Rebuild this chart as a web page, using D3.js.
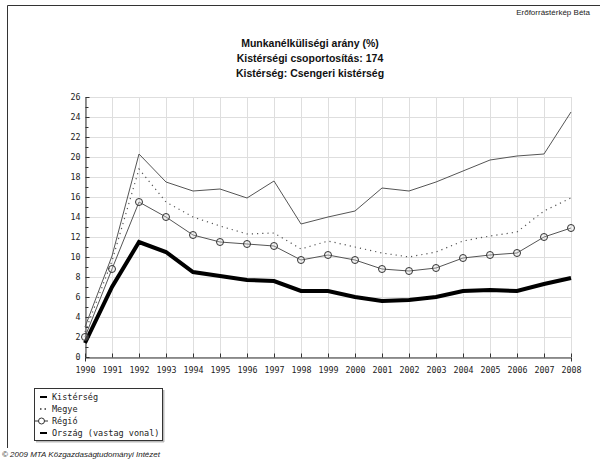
<!DOCTYPE html>
<html><head><meta charset="utf-8">
<script src="https://cdn.jsdelivr.net/npm/d3@7"></script>
<style>body{margin:0;background:#fff}svg{display:block}</style>
</head><body>
<svg id="c" width="600" height="461"></svg>
<script>
const years = [1990,1991,1992,1993,1994,1995,1996,1997,1998,1999,2000,2001,2002,2003,2004,2005,2006,2007,2008];
const kisterseg = [3.0,10.1,20.3,17.5,16.6,16.8,15.9,17.6,13.3,14.0,14.6,16.9,16.6,17.5,18.6,19.7,20.1,20.3,24.5];
const megye =     [2.5,9.6,18.8,15.5,14.0,13.1,12.3,12.4,10.8,11.6,11.0,10.4,10.0,10.5,11.6,12.1,12.5,14.6,15.9];
const regio =     [2.0,8.8,15.5,14.0,12.2,11.5,11.3,11.1,9.7,10.2,9.7,8.8,8.6,8.9,9.9,10.2,10.4,12.0,12.9];
const orszag =    [1.4,7.0,11.5,10.5,8.5,8.1,7.7,7.6,6.6,6.6,6.0,5.6,5.7,6.0,6.6,6.7,6.6,7.3,7.9];
const yTicks = [0,2,4,6,8,10,12,14,16,18,20,22,24,26];
const titleLines = ["Munkanélküliségi arány (%)","Kistérségi csoportosítás: 174","Kistérség: Csengeri kistérség"];
const legendLabels = ["Kistérség","Megye","Régió","Ország (vastag vonal)"];

const svg = d3.select("#c");
const mono = "DejaVu Sans Mono";
const x = d3.scaleLinear().domain([1990,2008]).range([85,571]);
const y = d3.scaleLinear().domain([0,26]).range([357,97]);

// frame
svg.append("path").attr("d","M7.5,448 V5.5 H600").attr("fill","none").attr("stroke","#333").attr("stroke-width",1);

svg.append("text").attr("x",590).attr("y",15).attr("text-anchor","end")
  .attr("font-family","Liberation Sans Narrow, Liberation Sans").attr("font-size",8).attr("fill","#222").text("Erőforrástérkép Béta");

svg.selectAll(".tt").data(titleLines).enter().append("text")
  .attr("x",310).attr("y",(d,i)=>47+i*15).attr("text-anchor","middle")
  .attr("font-family","Liberation Sans Narrow, Liberation Sans").attr("font-weight","bold").attr("font-size",10.5).attr("fill","#111")
  .text(d=>d);

// grid
const g = svg.append("g");
g.selectAll(".vg").data(years).enter().append("line")
  .attr("x1",d=>Math.round(x(d))+0.5).attr("x2",d=>Math.round(x(d))+0.5).attr("y1",y(26)).attr("y2",y(0))
  .attr("stroke","#dedede");
g.selectAll(".hg").data(yTicks).enter().append("line")
  .attr("x1",x(1990)).attr("x2",x(2008)+0.5).attr("y1",d=>Math.round(y(d))+0.5).attr("y2",d=>Math.round(y(d))+0.5)
  .attr("stroke","#dedede");

// axes
const xAxis = d3.axisBottom(x).tickValues(years).tickFormat(d3.format("d")).tickSize(4).tickPadding(6);
const ax = svg.append("g").attr("transform",`translate(0,${y(0)+0.5})`).call(xAxis);
ax.select(".domain").attr("stroke","#333");
ax.selectAll(".tick line").attr("stroke","#333").attr("y1",-4).attr("y2",0);
ax.selectAll("text").attr("font-family",mono).attr("font-size",8.3).attr("fill","#222");

const yAxis = d3.axisLeft(y).tickValues(yTicks).tickSize(0).tickPadding(5);
const ay = svg.append("g").attr("transform",`translate(${x(1990)+0.5},0)`).call(yAxis);
ay.select(".domain").attr("stroke","#333");
ay.selectAll("text").attr("font-family",mono).attr("font-size",8.3).attr("fill","#222");
const minor = d3.range(0,27);
ay.selectAll(".mn").data(minor).enter().append("line")
  .attr("x1",0).attr("x2",d=>d%2===0?4:3).attr("y1",d=>Math.round(y(d))+0.5).attr("y2",d=>Math.round(y(d))+0.5).attr("stroke","#333");

const line = d3.line().x((d,i)=>x(years[i])).y(d=>y(d));
svg.append("path").datum(orszag).attr("d",line).attr("fill","none").attr("stroke","#000").attr("stroke-width",4).attr("stroke-linejoin","miter");
svg.append("path").datum(kisterseg).attr("d",line).attr("fill","none").attr("stroke","#555").attr("stroke-width",1);
svg.append("path").datum(megye).attr("d",line).attr("fill","none").attr("stroke","#555").attr("stroke-width",1.2).attr("stroke-dasharray","1.2,4");
svg.append("path").datum(regio).attr("d",line).attr("fill","none").attr("stroke","#555").attr("stroke-width",1);
svg.selectAll(".rc").data(regio).enter().append("circle")
  .attr("cx",(d,i)=>x(years[i])).attr("cy",d=>y(d)).attr("r",3.5)
  .attr("fill","#ddd").attr("fill-opacity",0.3).attr("stroke","#333").attr("stroke-width",1);

// legend
const lg = svg.append("g");
lg.append("rect").attr("x",34.5).attr("y",388.5).attr("width",128).attr("height",52).attr("fill","#fff").attr("stroke","#333");
lg.append("rect").attr("x",36).attr("y",441).attr("width",128).attr("height",1.5).attr("fill","#bbb");
lg.append("rect").attr("x",163).attr("y",390).attr("width",1.5).attr("height",52).attr("fill","#bbb");
legendLabels.forEach((t,i)=>{
  const yy = 397+i*12;
  lg.append("text").attr("x",52).attr("y",yy+3).attr("font-family",mono).attr("font-size",8.5).attr("fill","#222").text(t);
});
lg.append("line").attr("x1",40).attr("x2",47).attr("y1",397).attr("y2",397).attr("stroke","#000").attr("stroke-width",2);
lg.append("line").attr("x1",40).attr("x2",48).attr("y1",409).attr("y2",409).attr("stroke","#333").attr("stroke-width",1.5).attr("stroke-dasharray","1.5,3");
lg.append("line").attr("x1",35).attr("x2",48).attr("y1",421).attr("y2",421).attr("stroke","#333").attr("stroke-width",1);
lg.append("circle").attr("cx",41.5).attr("cy",421).attr("r",3).attr("fill","#fff").attr("stroke","#333");
lg.append("line").attr("x1",40).attr("x2",47).attr("y1",433).attr("y2",433).attr("stroke","#000").attr("stroke-width",2);

svg.append("text").attr("x",2).attr("y",457).attr("font-family","Liberation Sans").attr("font-style","italic").attr("font-size",8).attr("fill","#222")
  .text("© 2009 MTA Közgazdaságtudományi Intézet");
</script>
</body></html>
